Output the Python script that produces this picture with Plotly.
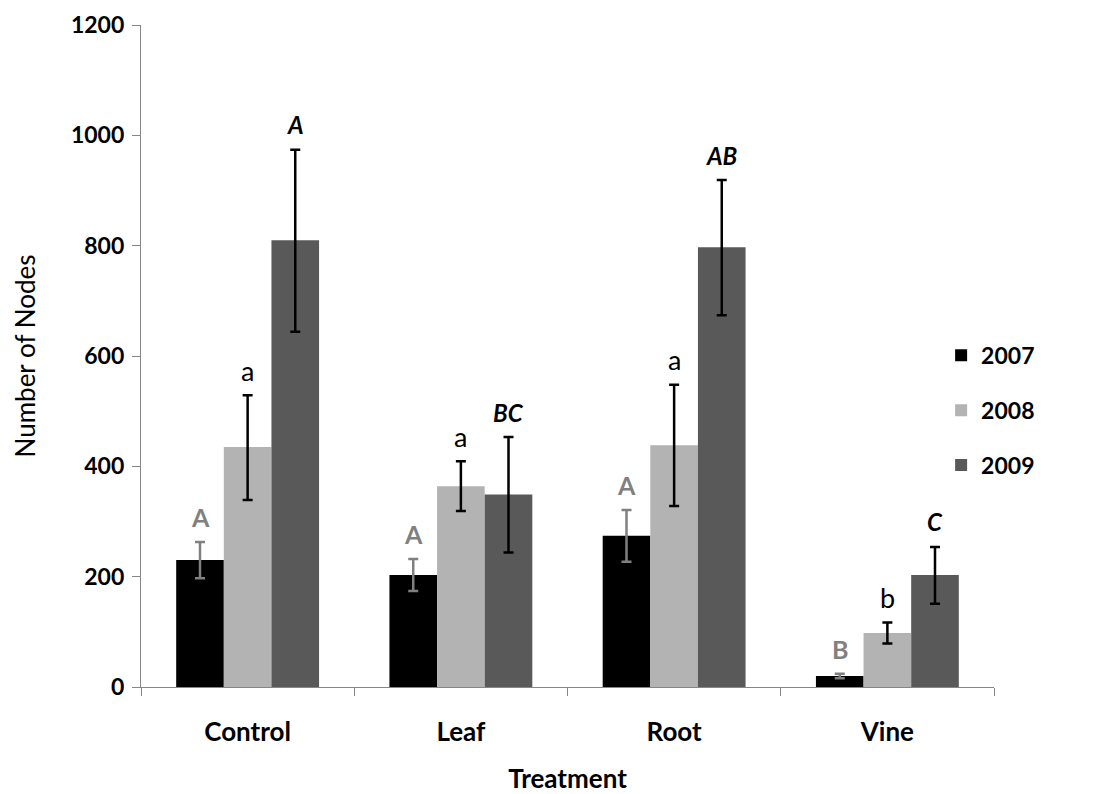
import plotly.graph_objects as go

categories = ["Control", "Leaf", "Root", "Vine"]
years = ["2007", "2008", "2009"]

values_2007 = [230, 203, 274, 20]
err_up_2007 = [33, 29, 47, 4]
err_dn_2007 = [33, 29, 47, 4]
letters_2007 = ["A", "A", "A", "B"]

values_2008 = [435, 364, 438, 98]
err_up_2008 = [94, 45, 110, 19]
err_dn_2008 = [96, 45, 110, 19]
letters_2008 = ["a", "a", "a", "b"]

values_2009 = [810, 349, 797, 203]
err_up_2009 = [164, 104, 122, 51]
err_dn_2009 = [166, 105, 123, 52]
letters_2009 = ["A", "BC", "AB", "C"]

series = [
    dict(name="2007", vals=values_2007, up=err_up_2007, dn=err_dn_2007, letters=letters_2007,
         color="#000000", ecolor="#808080",
         lfont=dict(family="Lato", size=25, color="#808080", weight="bold")),
    dict(name="2008", vals=values_2008, up=err_up_2008, dn=err_dn_2008, letters=letters_2008,
         color="#B3B3B3", ecolor="#000000",
         lfont=dict(family="Lato", size=27, color="#000000")),
    dict(name="2009", vals=values_2009, up=err_up_2009, dn=err_dn_2009, letters=letters_2009,
         color="#595959", ecolor="#000000",
         lfont=dict(family="Lato", size=24, color="#000000", weight="bold", style="italic")),
]

fig = go.Figure()
for i, s in enumerate(series):
    fig.add_trace(go.Bar(
        x=categories, y=s["vals"], name=s["name"],
        marker=dict(color=s["color"], line=dict(width=0)),
        legendgroup=s["name"],
        error_y=dict(type="data", symmetric=False, array=s["up"], arrayminus=s["dn"],
                     color=s["ecolor"], thickness=2.5, width=5),
    ))

# letter annotations above error bars
offsets = [-1, 0, 1]
group_width = 1 - 0.33
bar_w = group_width / 3
for i, s in enumerate(series):
    for j, cat in enumerate(categories):
        fig.add_annotation(
            x=j + offsets[i] * bar_w, y=s["vals"][j] + s["up"][j],
            xref="x", yref="y", text=s["letters"][j], showarrow=False,
            yanchor="middle", yshift=25, font=s["lfont"],
        )

fig.update_layout(
    width=1098, height=794,
    margin=dict(l=141, r=104, t=25, b=107),
    paper_bgcolor="white", plot_bgcolor="white",
    barmode="group", bargap=0.33, bargroupgap=0,
    showlegend=True,
    legend=dict(x=0.938, xanchor="left", y=0.418, yanchor="middle", xref="paper",
                font=dict(family="Lato", size=23, color="#000000", weight="bold"),
                tracegroupgap=22, bgcolor="rgba(0,0,0,0)", itemwidth=30),
    font=dict(family="Lato", color="#000000"),
)

fig.update_xaxes(
    type="category", range=[-0.5, 3.5], automargin=False,
    showline=True, linecolor="#868686", linewidth=1.3,
    ticks="outside", tickson="boundaries", ticklen=8, tickcolor="#868686", tickwidth=1,
    tickfont=dict(family="Lato", size=26, color="#000000", weight="bold"),
    ticklabelstandoff=22,
    title=dict(text="Treatment", font=dict(family="Lato", size=26, color="#000000", weight="bold"),
               standoff=26),
    showgrid=False, zeroline=False,
)
fig.update_yaxes(
    range=[0, 1200], tickvals=[0, 200, 400, 600, 800, 1000, 1200], automargin=False,
    showline=True, linecolor="#868686", linewidth=1.3,
    ticks="outside", ticklen=8, tickcolor="#868686", tickwidth=1,
    tickfont=dict(family="Lato", size=23, color="#000000", weight="bold"),
    ticklabelstandoff=3,
    title=dict(text="Number of Nodes", font=dict(family="Lato", size=26, color="#000000"),
               standoff=27),
    showgrid=False, zeroline=False,
)

fig.write_html("out.html")
